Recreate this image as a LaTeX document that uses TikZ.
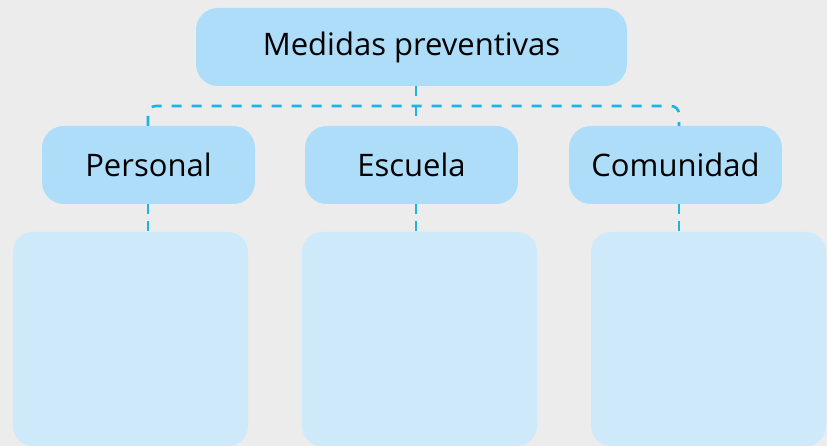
\documentclass[tikz,border=0pt]{standalone}
\usepackage{fontspec}
\setmainfont{Open Sans}
\definecolor{bg}{HTML}{ECECEC}
\definecolor{head}{HTML}{ADDDF8}
\definecolor{body}{HTML}{CDE9FA}
\definecolor{dash}{HTML}{1BB4E5}
\begin{document}
\begin{tikzpicture}[x=1pt,y=-1pt,
  headbox/.style={fill=head,draw=none,rounded corners=22pt,minimum height=78pt,inner sep=0pt,font=\fontsize{31}{36}\selectfont},
  bodybox/.style={fill=body,draw=none,rounded corners=20pt,inner sep=0pt},
  link/.style={draw=dash,line width=2.6pt,dash pattern=on 10pt off 10pt}]
\fill[bg] (0,0) rectangle (827,446);
\useasboundingbox (0,0) rectangle (827,446);
\node[headbox,minimum width=431pt] (top) at (411.5,47) {Medidas preventivas};
\node[headbox,minimum width=213pt] (p) at (148.5,165) {Personal};
\node[headbox,minimum width=213pt] (e) at (411.5,165) {Escuela};
\node[headbox,minimum width=213pt] (c) at (675.5,165) {Comunidad};
\node[bodybox,minimum width=235pt,minimum height=214pt] (pb) at (130.5,339) {};
\node[bodybox,minimum width=235pt,minimum height=214pt] (eb) at (419.5,339) {};
\node[bodybox,minimum width=235pt,minimum height=214pt] (cb) at (708.5,339) {};
\coordinate (hl) at (148,106);
\coordinate (hr) at (679,106);
\draw[link,rounded corners=8pt] (p.north -| hl) -- (hl) -- (hr) -- (c.north -| hr);
\draw[link] (top.south -| 416,0) -- (e.north -| 416,0);
\draw[link,dash pattern=on 10pt off 7pt] (p.south -| hl) -- (pb.north -| hl);
\draw[link,dash pattern=on 10pt off 7pt] (e.south -| 416,0) -- (eb.north -| 416,0);
\draw[link,dash pattern=on 10pt off 7pt] (c.south -| hr) -- (cb.north -| hr);
\end{tikzpicture}
\end{document}
